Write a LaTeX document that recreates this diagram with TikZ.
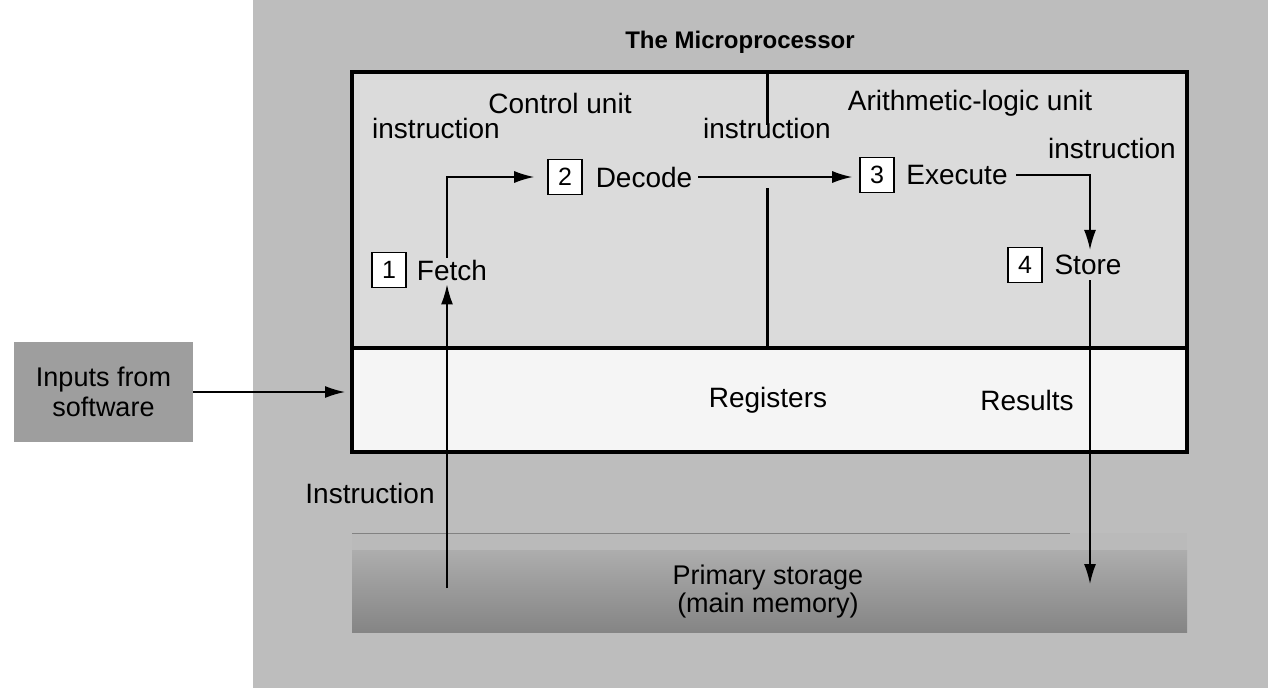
\documentclass[tikz,border=0pt]{standalone}
\usepackage{fontspec}
\setmainfont{Liberation Sans}
\usetikzlibrary{arrows.meta}
\definecolor{bgout}{gray}{0.74}
\definecolor{bgin}{gray}{0.86}
\definecolor{bgreg}{gray}{0.96}
\definecolor{bginp}{gray}{0.62}
\definecolor{memtop}{gray}{0.68}
\definecolor{membot}{gray}{0.52}
\tikzset{
  lbl/.style={font=\fontsize{28}{31}\selectfont, inner sep=2pt},
  numbox/.style={draw, line width=1.6pt, fill=white, minimum width=34pt, minimum height=35pt, inner sep=0pt, font=\fontsize{25}{28}\selectfont},
  arr/.style={line width=1.6pt, -{Latex[length=20pt,width=12pt]}},
  frame/.style={draw, line width=4pt},
}
\begin{document}
\begin{tikzpicture}[x=1pt,y=-1pt]
\useasboundingbox (0,0) rectangle (1268,688);
\fill[white] (0,0) rectangle (1268,688);
\fill[bgout] (253,0) rectangle (1268,688);
% primary storage band
\fill[bgout!80!memtop] (352,533) rectangle (1187,550);
\shade[top color=memtop, bottom color=membot] (352,550) rectangle (1187,632);
\draw[gray!60!black, line width=0.6pt, opacity=0.5] (352,533) -- (1070,533);
% processor boxes
\node[frame, fill=bgin, minimum width=835pt, minimum height=276pt, anchor=north west, inner sep=0pt] (cpu) at (350,70) {};
\node[frame, fill=bgreg, minimum width=835pt, minimum height=104pt, anchor=north west, inner sep=0pt] (regbox) at (350,346) {};
\draw[line width=3pt] (767,70) -- (767,125);
\draw[line width=3pt] (767,188) -- (767,346);
% inputs
\node[fill=bginp, minimum width=179pt, minimum height=100pt, align=center, font=\fontsize{27}{30}\selectfont, inner sep=2pt] (inputs) at (103.5,392) {Inputs from\\software};
% texts
\node[font=\fontsize{24}{28}\selectfont\bfseries] (title) at (740,42) {The Microprocessor};
\node[lbl] (cu) at (560,103) {Control unit};
\node[lbl] (alu) at (970,103) {Arithmetic-logic unit};
\node[lbl] (ins1) at (436,128) {instruction};
\node[lbl] (ins2) at (767,128) {instruction};
\node[lbl] (ins3) at (1112,148) {instruction};
\node[numbox] (n1) at (389,270) {1};
\node[lbl] (fetch) at (452,270) {Fetch};
\node[numbox] (n2) at (565,177) {2};
\node[lbl] (decode) at (644,177) {Decode};
\node[numbox] (n3) at (877,175) {3};
\node[lbl] (execute) at (957,175) {Execute};
\node[numbox] (n4) at (1025,265) {4};
\node[lbl] (store) at (1088,265) {Store};
\node[lbl] (regs) at (768,400) {Registers};
\node[lbl] (results) at (1027,400) {Results};
\node[lbl] (instr) at (370,493) {Instruction};
\node[lbl, align=center, font=\fontsize{27}{28}\selectfont] (mem) at (768,592) {Primary storage\\(main memory)};
\coordinate (memL) at (447,588);
\coordinate (memR) at (1090,584);
% connectors
\draw[arr] ([xshift=-5pt]fetch.north) |- ([xshift=-13pt]n2.west);
\draw[arr] ([xshift=4pt]decode.east) -- ([xshift=-7pt]n3.west |- decode.east);
\draw[arr] ([xshift=6pt]execute.east) -| ([xshift=2pt,yshift=3pt]store.north);
\draw[arr] (memL) -- ([xshift=-5pt,yshift=-2pt]fetch.south);
\draw[arr] ([xshift=2pt,yshift=-3pt]store.south) -- (memR);
\draw[arr] (inputs.east) -- ([xshift=-5pt]inputs.east -| regbox.west);
\end{tikzpicture}
\end{document}
